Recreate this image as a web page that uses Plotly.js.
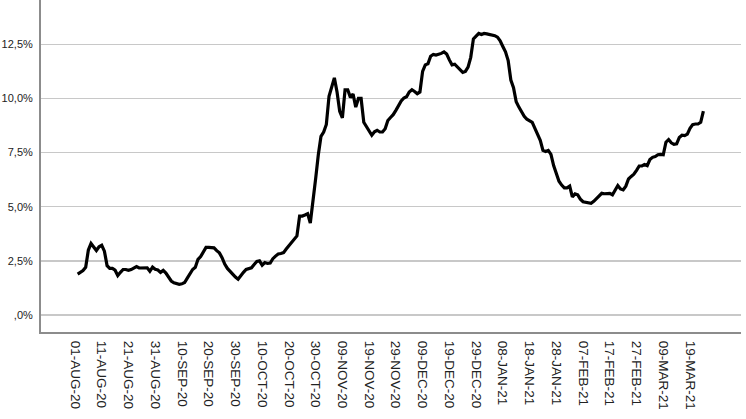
<!DOCTYPE html>
<html>
<head>
<meta charset="utf-8">
<script src="https://cdn.plot.ly/plotly-3.0.1.min.js"></script>
<style>html,body{margin:0;padding:0;background:#fff;}#chart{width:746px;height:419px;}</style>
</head>
<body>
<div id="chart"></div>
<script>
// First day of the series (consecutive daily values)
var startDate = '2020-08-02';

// Daily percentage values
var values = [
1.89,1.95,2.05,2.2,3.0,3.3,3.13,2.98,3.15,3.22,
2.95,2.28,2.15,2.15,2.07,1.82,1.97,2.1,2.1,2.06,
2.1,2.17,2.24,2.17,2.18,2.19,2.18,2.02,2.21,2.11,
2.08,1.97,2.06,1.94,1.72,1.57,1.49,1.44,1.42,1.44,
1.5,1.7,1.92,2.1,2.2,2.57,2.7,2.9,3.12,3.12,
3.12,3.1,2.97,2.87,2.65,2.35,2.15,2.0,1.9,1.75,
1.65,1.83,1.97,2.1,2.13,2.18,2.33,2.47,2.5,2.3,
2.42,2.38,2.4,2.6,2.72,2.82,2.84,2.88,3.05,3.2,
3.38,3.52,3.65,4.57,4.57,4.62,4.68,4.25,5.2,6.3,
7.4,8.25,8.45,8.8,10.1,10.6,10.95,10.3,9.4,9.1,
10.4,10.4,10.05,10.2,9.6,10.0,10.0,8.9,8.68,8.45,
8.3,8.46,8.53,8.45,8.45,8.6,8.98,9.12,9.25,9.45,
9.68,9.88,10.02,10.08,10.3,10.4,10.32,10.22,10.3,11.25,
11.55,11.6,11.95,12.03,12.0,12.03,12.08,12.15,12.05,11.78,
11.55,11.58,11.45,11.3,11.2,11.25,11.45,11.9,12.75,12.88,
13.0,12.95,13.0,12.98,12.96,12.93,12.9,12.83,12.66,12.4,
12.15,11.75,10.85,10.5,9.85,9.6,9.38,9.18,9.04,8.98,
8.9,8.62,8.3,8.07,7.6,7.55,7.6,7.42,6.9,6.48,
6.18,6.0,5.87,5.87,5.95,5.45,5.59,5.55,5.35,5.23,
5.2,5.18,5.16,5.25,5.38,5.5,5.62,5.6,5.62,5.62,
5.55,5.8,5.98,5.82,5.78,5.95,6.28,6.4,6.5,6.68,
6.88,6.88,6.95,6.9,7.18,7.28,7.32,7.4,7.42,7.4,
7.98,8.1,7.95,7.88,7.9,8.2,8.3,8.28,8.35,8.62,
8.79,8.82,8.82,8.9,9.42
];

// X tick positions and labels
var xTickVals = ['2020-08-01','2020-08-11','2020-08-21','2020-08-31','2020-09-10','2020-09-20','2020-09-30',
  '2020-10-10','2020-10-20','2020-10-30','2020-11-09','2020-11-19','2020-11-29','2020-12-09','2020-12-19',
  '2020-12-29','2021-01-08','2021-01-18','2021-01-28','2021-02-07','2021-02-17','2021-02-27','2021-03-09','2021-03-19'];
var xTickText = ['01-AUG-20','11-AUG-20','21-AUG-20','31-AUG-20','10-SEP-20','20-SEP-20','30-SEP-20',
  '10-OCT-20','20-OCT-20','30-OCT-20','09-NOV-20','19-NOV-20','29-NOV-20','09-DEC-20','19-DEC-20',
  '29-DEC-20','08-JAN-21','18-JAN-21','28-JAN-21','07-FEB-21','17-FEB-21','27-FEB-21','09-MAR-21','19-MAR-21'];

// Y tick positions and labels
var yTickVals = [0, 2.5, 5, 7.5, 10, 12.5];
var yTickText = [',0%', '2,5%', '5,0%', '7,5%', '10,0%', '12,5%'];

var DAY = 86400000;
var t0 = Date.parse(startDate + 'T00:00:00Z');
var dates = [];
for (var i = 0; i < values.length; i++) {
  dates.push(new Date(t0 + i * DAY).toISOString().slice(0, 10));
}
var ref = Date.parse('2020-08-01T00:00:00Z');
function iso(ms) { return new Date(ms).toISOString().replace('T', ' ').slice(0, 19); }

var trace = {
  x: dates, y: values, type: 'scatter', mode: 'lines',
  line: {color: '#000000', width: 3.2},
  hoverinfo: 'skip'
};

var layout = {
  width: 746, height: 419,
  margin: {l: 41, r: 5, t: 0, b: 87, pad: 0},
  paper_bgcolor: '#ffffff', plot_bgcolor: '#ffffff',
  showlegend: false,
  font: {family: 'Liberation Sans, Arial, sans-serif', color: '#222222'},
  xaxis: {
    type: 'date',
    range: [iso(ref - 12.71 * DAY), iso(ref + 249.07 * DAY)],
    tickmode: 'array', tickvals: xTickVals, ticktext: xTickText,
    tickangle: 90, tickfont: {size: 13.5, color: '#222222'},
    showgrid: false, zeroline: false,
    showline: true, linecolor: '#8c8c8c', linewidth: 2,
    ticks: 'outside', ticklen: 4, tickcolor: 'rgba(0,0,0,0)'
  },
  yaxis: {
    range: [-0.785, 14.546],
    tickmode: 'array', tickvals: yTickVals, ticktext: yTickText,
    tickfont: {size: 11, color: '#222222'},
    showgrid: true, gridcolor: '#c8c8c8', gridwidth: 1.5,
    zeroline: false,
    showline: true, linecolor: '#8c8c8c', linewidth: 2,
    ticks: 'outside', ticklen: 4, tickcolor: 'rgba(0,0,0,0)'
  }
};

Plotly.newPlot('chart', [trace], layout, {displayModeBar: false, staticPlot: true});
</script>
</body>
</html>
